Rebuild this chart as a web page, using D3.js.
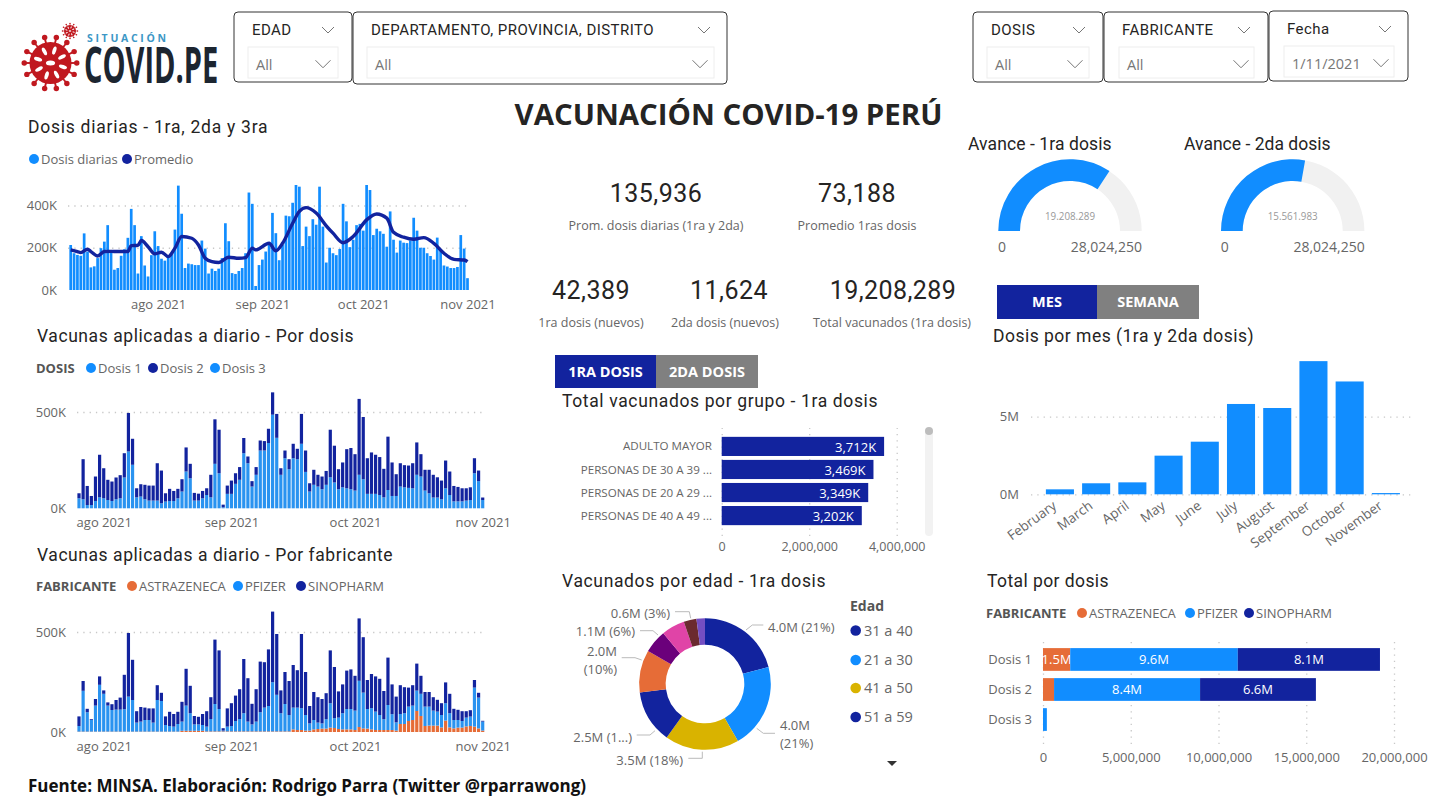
<!DOCTYPE html>
<html>
<head>
<meta charset="utf-8">
<title>Vacunación COVID-19 Perú</title>
<script src="https://cdn.jsdelivr.net/npm/d3@7"></script>
<style>
    html, body { margin: 0; padding: 0; background: #fff; overflow: hidden; }
    text { font-family: "Open Sans", sans-serif; fill: #666; }
    .din { font-family: Roboto, sans-serif; fill: #252423; letter-spacing: 0.45px; }
</style>
</head>
<body>
<script>
//colors used all over the report
var BLUE = "#118DFF", NAVY = "#12239E", ORANGE = "#E66C37", GOLD = "#D9B300", GREY = "#808080";

//daily doses, thousands, 6 jul - 1 nov 2021 (chart is cut at ~500K like the original)
var dosisDiarias = [213,174,166,162,268,182,107,112,151,198,229,307,185,96,104,162,193,247,384,307,
    78,255,116,64,165,278,208,148,139,160,172,286,495,361,104,125,122,118,118,234,196,78,101,90,101,151,316,231,80,76,
    90,104,174,462,408,19,118,144,182,214,365,269,141,214,352,349,413,602,490,208,300,255,335,309,490,300,130,200,174,165,
    194,408,325,203,238,307,313,281,568,474,260,290,278,266,205,372,238,177,234,224,222,234,342,281,200,200,174,161,144,248,
    191,116,111,104,104,109,260,196,56];
//moving average, read at the bends of the line (day number from 6 jul, thousands)
var promedioDia = [0,2,3,5,6,8,10,12,14,17,18,20,21,23,25,27,29,31,33,36,38,40,42,44,47,50,52,54,55,59,61,63,66,68,70,73,76,78,81,84,88,91,94,96,99,102,105,108,111,114,117,118];
var promedioVal = [190,182,177,193,182,161,182,183,182,182,210,212,234,205,171,179,158,198,253,245,213,150,134,130,155,150,153,198,190,221,186,221,316,372,390,364,304,269,224,253,332,360,340,273,250,240,248,221,174,145,142,134];

//by dose, thousands, 26 jul - 1 nov 2021
var dosis1 = [52,47,17,17,38,57,52,43,38,47,52,160,295,226,57,61,47,40,40,40,26,35,38,38,52,87,191,156,40,40,52,69,57,231,182,5,75,75,127,148,286,234,113,174,300,300,339,486,366,174,260,203,260,255,335,189,87,122,113,99,122,161,134,99,109,104,99,92,174,151,75,75,75,69,57,95,64,64,113,109,106,104,174,165,92,78,56,56,47,104,69,36,36,36,40,43,182,141,43];
var dosis2 = [26,208,99,47,127,221,156,105,101,113,120,126,200,135,47,64,75,78,78,194,170,43,63,52,49,64,125,75,40,36,38,35,117,231,226,14,43,69,55,66,79,35,28,40,52,49,74,116,124,34,40,52,75,54,155,111,43,78,61,66,72,247,191,104,129,203,214,189,394,323,185,215,203,197,148,277,174,113,121,115,116,130,168,116,108,122,118,105,97,144,122,80,75,68,64,66,78,55,13];

//by manufacturer, thousands, 26 jul - 1 nov 2021
var astrazeneca = [2,2,2,2,2,2,2,2,2,2,2,2,2,2,2,2,2,2,2,2,2,2,2,2,2,6,6,6,6,6,6,3,3,3,3,3,3,3,3,3,3,3,3,3,3,3,3,3,3,3,3,3,13,10,10,7,7,13,15,17,17,22,20,15,13,13,13,10,25,18,17,13,10,10,10,10,10,7,40,40,55,60,105,80,30,32,32,32,23,57,23,18,22,22,28,30,27,18,7];
var pfizer = [28,204,97,58,130,234,189,130,108,110,110,112,175,158,45,50,58,58,45,158,153,33,28,25,38,46,126,88,32,32,29,24,62,137,112,4,24,27,52,62,91,49,35,49,96,119,127,246,183,91,137,82,109,112,109,78,36,47,32,26,47,122,49,57,81,102,102,97,231,179,98,106,92,75,54,125,79,41,50,54,72,72,102,111,97,95,75,70,62,87,71,42,38,33,44,47,195,154,45];
var sinopharm = [48,49,17,4,33,42,17,16,29,48,60,172,318,201,57,73,62,58,71,74,41,43,71,63,61,99,184,137,42,38,55,77,109,322,293,12,91,114,127,149,271,217,103,162,253,227,283,353,304,114,160,170,213,187,371,215,87,140,127,122,130,264,256,131,144,192,198,174,312,277,145,171,176,181,141,237,149,129,144,130,95,102,135,90,73,73,67,59,59,104,97,56,51,49,32,32,38,24,4];

//x axis tick labels of the daily charts
var tickFechas = [new Date(2021, 7, 1), new Date(2021, 8, 1), new Date(2021, 9, 1), new Date(2021, 10, 1)];
var tickMeses = ["ago 2021", "sep 2021", "oct 2021", "nov 2021"];

//group bars
var grupos = ["ADULTO MAYOR", "PERSONAS DE 30 A 39 ...", "PERSONAS DE 20 A 29 ...", "PERSONAS DE 40 A 49 ..."];
var grupoVal = [3712000, 3469000, 3349000, 3202000];

//donut
var edades = ["31 a 40", "21 a 30", "41 a 50", "51 a 59", "60 a 69", "18 a 20", "70 a 79", "80 a 89", "90+"];
var edadVal = [4.0, 4.0, 3.5, 2.5, 2.0, 1.1, 1.1, 0.6, 0.4];
var edadColor = [NAVY, BLUE, GOLD, NAVY, ORANGE, "#6B007B", "#E044A7", "#6B2A2F", "#744EC2"];

//months
var meses = ["February", "March", "April", "May", "June", "July", "August", "September", "October", "November"];
var mesVal = [0.32, 0.71, 0.77, 2.49, 3.39, 5.82, 5.56, 8.58, 7.27, 0.08];

//total por dosis
var dosisNombres = ["Dosis 1", "Dosis 2", "Dosis 3"];
var totalAstra = [1.55, 0.63, 0];
var totalPfizer = [9.55, 8.32, 0.22];
var totalSino = [8.1, 6.6, 0];

//gauges
var poblacion = 28024250;
var avance1 = 19208289, avance2 = 15561983;

var svg = d3.select("body").append("svg")
    .attr("width", 1429)
    .attr("height", 800)
    .attr("viewBox", "0 0 1429 800");

//small text helper, y is the vertical middle of the text
function label(x, y, txt, size, opts) {
    opts = opts || {};
    var t = svg.append("text")
        .attr("x", x)
        .attr("y", y)
        .attr("dy", "0.35em")
        .attr("font-size", size)
        .attr("text-anchor", opts.anchor || "start")
        .text(txt);
    if (opts.din) t.attr("class", "din");
    if (opts.color) t.style("fill", opts.color);
    if (opts.weight) t.attr("font-weight", opts.weight);
    return t;
}

//section titles, width forced because the original font is not installed
function title(x, y, txt, w) {
    return label(x, y, txt, 17.5, {din: true}).attr("textLength", w);
}

//dots legend, xs holds the dot position of every entry
function legend(y, head, headX, names, colors, xs) {
    if (head) label(headX, y, head, 13, {weight: 700, color: "#555"});
    names.forEach(function (n, i) {
        svg.append("circle").attr("cx", xs[i]).attr("cy", y).attr("r", 5).attr("fill", colors[i]);
        label(xs[i] + 7, y, n, 13);
    });
}

//dotted gridlines and grey labels for an axis group
function cleanAxis(g, fontSize) {
    g.select(".domain").remove();
    g.selectAll(".tick line")
        .attr("stroke", "#c8c8c8")
        .attr("stroke-width", 1.3)
        .attr("stroke-dasharray", "1.3,5");
    g.selectAll(".tick text")
        .attr("font-size", fontSize)
        .attr("font-family", '"Open Sans", sans-serif')
        .style("fill", "#666");
}

//y and x axes shared by the three daily charts
function dailyAxes(x, y, yTicks, left, right, xLabelY, yLabelX) {
    var yAxis = d3.axisLeft(y)
        .tickValues(yTicks)
        .tickSize(-(right - left))
        .tickPadding(left - yLabelX)
        .tickFormat(function (d) { return d + "K"; });
    var gy = svg.append("g").attr("transform", "translate(" + left + ",0)").call(yAxis);
    cleanAxis(gy, 13);
    gy.selectAll(".tick").filter(function (d) { return d === 0; }).select("line").remove();

    var xAxis = d3.axisBottom(x)
        .tickValues(tickFechas)
        .tickSize(0)
        .tickPadding(0)
        .tickFormat(function (d, i) { return tickMeses[i]; });
    var gx = svg.append("g").attr("transform", "translate(0," + xLabelY + ")").call(xAxis);
    cleanAxis(gx, 13);
    gx.selectAll(".tick text").attr("dy", "0.35em");
}

/************ logo ************/
function drawVirus(cx, cy, r, spikes) {
    var v = svg.append("g").attr("transform", "translate(" + cx + "," + cy + ")");
    d3.range(spikes).forEach(function (i) {
        var a = i / spikes * 2 * Math.PI;
        var tip = r * 1.25;
        v.append("line")
            .attr("x1", 0).attr("y1", 0)
            .attr("x2", Math.cos(a) * tip).attr("y2", Math.sin(a) * tip)
            .attr("stroke", "#C0181F").attr("stroke-width", r * 0.09);
        v.append("circle")
            .attr("cx", Math.cos(a) * tip).attr("cy", Math.sin(a) * tip)
            .attr("r", r * 0.13).attr("fill", "#C0181F");
    });
    v.append("circle").attr("r", r).attr("fill", "#C0181F");
    //white spots on the body
    d3.range(8).forEach(function (i) {
        var a = i / 8 * 2 * Math.PI + 0.3;
        v.append("ellipse")
            .attr("rx", r * 0.2).attr("ry", r * 0.09)
            .attr("transform", "rotate(" + (a * 180 / Math.PI) + ") translate(" + (r * 0.62) + ",0)")
            .attr("fill", "#fff");
    });
    v.append("ellipse").attr("rx", r * 0.22).attr("ry", r * 0.12).attr("fill", "#fff");
}
drawVirus(50.5, 63, 21, 14);
drawVirus(70, 31, 6, 12);
label(87, 38.5, "SITUACIÓN", 10.5, {weight: 700, color: "#3C97C6"}).attr("textLength", 79);
//condensed letters: no condensed font here, so squeeze it
svg.append("text")
    .attr("transform", "translate(84,83) scale(0.58,1)")
    .attr("font-family", "Roboto, sans-serif").attr("font-weight", 700).attr("font-size", 50)
    .style("fill", "#1C2530")
    .text("COVID.PE");

/************ slicers ************/
function chevron(x, y, w) {
    svg.append("path")
        .attr("d", d3.line()([[x - w, y - w / 2], [x, y + w / 2], [x + w, y - w / 2]]))
        .attr("fill", "none").attr("stroke", "#666").attr("stroke-width", 0.9);
}
function slicer(x0, x1, y0, y1, name, value, headChev, inX0, inX1, valChev) {
    svg.append("rect")
        .attr("x", x0).attr("y", y0).attr("width", x1 - x0).attr("height", y1 - y0)
        .attr("rx", 4).attr("fill", "#fff").attr("stroke", "#333").attr("stroke-width", 1);
    label(x0 + 18, y0 + 18, name, 15, {din: true});
    chevron(headChev, y0 + 18, 6);
    svg.append("rect")
        .attr("x", inX0).attr("y", y0 + 35).attr("width", inX1 - inX0).attr("height", 31)
        .attr("fill", "#fff").attr("stroke", "#eee");
    label(inX0 + 8, y0 + 53, value, 14.5, {color: "#777"});
    chevron(valChev, y0 + 52, 7.5);
}
slicer(234, 352, 12, 82, "EDAD", "All", 328, 248, 338, 323);
slicer(353, 727, 12, 84, "DEPARTAMENTO, PROVINCIA, DISTRITO", "All", 704, 367, 714, 700);
slicer(973, 1103, 12, 82, "DOSIS", "All", 1079, 987, 1089, 1075);
slicer(1104, 1268, 12, 82, "FABRICANTE", "All", 1244, 1119, 1254, 1241);
slicer(1269, 1408, 11, 81, "Fecha", "1/11/2021", 1385, 1284, 1394, 1381);

/************ main title and footer ************/
label(728.5, 115, "VACUNACIÓN COVID-19 PERÚ", 29.4, {anchor: "middle", weight: 700, color: "#252423"});
label(28, 786, "Fuente: MINSA. Elaboración: Rodrigo Parra (Twitter @rparrawong)", 17, {weight: 700, color: "#111"});

/************ daily doses chart ************/
title(28, 127, "Dosis diarias - 1ra, 2da y 3ra", 240);
legend(159, null, 0, ["Dosis diarias", "Promedio"], [BLUE, NAVY], [34, 127]);

var fechas1 = d3.timeDay.range(new Date(2021, 6, 6), new Date(2021, 10, 2));
var x1 = d3.scaleTime().domain([fechas1[0], fechas1[fechas1.length - 1]]).range([70.7, 467.5]);
var y1 = d3.scaleLinear().domain([0, 400, 498]).range([290, 205.5, 185]).clamp(true);
dailyAxes(x1, y1, [0, 200, 400], 68, 468, 304, 57);

svg.append("g").selectAll("rect")
    .data(dosisDiarias)
    .enter()
    .append("rect")
    .attr("x", function (d, i) { return x1(fechas1[i]) - 1.35; })
    .attr("width", 2.7)
    .attr("y", function (d) { return y1(d); })
    .attr("height", function (d) { return 290 - y1(d); })
    .attr("fill", BLUE);

var promLine = d3.line()
    .x(function (d, i) { return x1(d3.timeDay.offset(fechas1[0], promedioDia[i])); })
    .y(function (d) { return y1(d); })
    .curve(d3.curveMonotoneX);
svg.append("path")
    .datum(promedioVal)
    .attr("d", promLine)
    .attr("fill", "none")
    .attr("stroke", NAVY)
    .attr("stroke-width", 3.4);

/************ stacked daily charts ************/
var fechas2 = d3.timeDay.range(new Date(2021, 6, 26), new Date(2021, 10, 2));
var x2 = d3.scaleTime().domain([fechas2[0], fechas2[fechas2.length - 1]]).range([79, 482.7]);

function stackedDaily(rows, keys, colors, base, y500) {
    var y = d3.scaleLinear().domain([0, 500]).range([base, y500]);
    dailyAxes(x2, y, [0, 500], 77, 483, base + 14, 66);
    var layers = d3.stack().keys(keys)(rows);
    layers.forEach(function (layer, k) {
        svg.append("g").selectAll("rect")
            .data(layer)
            .enter()
            .append("rect")
            .attr("x", function (d, i) { return x2(fechas2[i]) - 1.6; })
            .attr("width", 3.2)
            .attr("y", function (d) { return y(d[1]); })
            .attr("height", function (d) { return y(d[0]) - y(d[1]); })
            .attr("fill", colors[k]);
    });
}

title(37, 336, "Vacunas aplicadas a diario - Por dosis", 317);
legend(368, "DOSIS", 36, ["Dosis 1", "Dosis 2", "Dosis 3"], [BLUE, NAVY, BLUE], [91, 153, 215]);
var filasDosis = dosis1.map(function (d, i) { return {d1: d, d2: dosis2[i]}; });
stackedDaily(filasDosis, ["d1", "d2"], ["#2A93F0", NAVY], 508.3, 412);

title(37, 555, "Vacunas aplicadas a diario - Por fabricante", 356);
legend(586, "FABRICANTE", 36, ["ASTRAZENECA", "PFIZER", "SINOPHARM"], [ORANGE, BLUE, NAVY], [132, 238, 301]);
var filasFab = astrazeneca.map(function (d, i) { return {az: d, pf: pfizer[i], si: sinopharm[i]}; });
stackedDaily(filasFab, ["az", "pf", "si"], [ORANGE, "#2A93F0", NAVY], 732, 632);

/************ KPI cards ************/
function kpi(cx, cy, num, txt, txtX) {
    label(cx, cy, num, 25, {anchor: "middle", din: true});
    label(txtX, cy + 33, txt, 12.5, {anchor: "middle"});
}
kpi(656, 193, "135,936", "Prom. dosis diarias (1ra y 2da)", 656);
kpi(857, 193, "73,188", "Promedio 1ras dosis", 857);
kpi(591, 290, "42,389", "1ra dosis (nuevos)", 591);
kpi(729, 290, "11,624", "2da dosis (nuevos)", 725);
kpi(893, 290, "19,208,289", "Total vacunados (1ra dosis)", 892);

/************ toggle buttons ************/
function boton(x0, x1, y0, y1, txt, color) {
    svg.append("rect").attr("x", x0).attr("y", y0).attr("width", x1 - x0).attr("height", y1 - y0).attr("fill", color);
    label((x0 + x1) / 2, (y0 + y1) / 2, txt, 14.5, {anchor: "middle", weight: 700, color: "#fff"});
}
boton(555, 656, 355, 388, "1RA DOSIS", NAVY);
boton(656, 758, 355, 388, "2DA DOSIS", GREY);
boton(997, 1097, 285, 319, "MES", NAVY);
boton(1097, 1199, 285, 319, "SEMANA", GREY);

/************ bars by group ************/
title(562, 401, "Total vacunados por grupo - 1ra dosis", 316);
var xg = d3.scaleLinear().domain([0, 4000000]).range([721.7, 896.7]);
var yg = d3.scaleBand().domain(grupos).range([435, 527]).paddingInner(0.17).paddingOuter(0.08);

var gxg = svg.append("g").attr("transform", "translate(0,536)")
    .call(d3.axisBottom(xg).tickValues([0, 2000000, 4000000]).tickSize(-108).tickPadding(6).tickFormat(d3.format(",")));
cleanAxis(gxg, 12.5);

svg.append("g").selectAll("rect")
    .data(grupoVal)
    .enter()
    .append("rect")
    .attr("x", xg(0))
    .attr("y", function (d, i) { return yg(grupos[i]); })
    .attr("width", function (d) { return xg(d) - xg(0); })
    .attr("height", yg.bandwidth())
    .attr("fill", NAVY);
grupoVal.forEach(function (d, i) {
    label(xg(d) - 8, yg(grupos[i]) + yg.bandwidth() / 2 + 1, d3.format(",")(d / 1000) + "K", 13, {anchor: "end", color: "#fff"});
    label(712, yg(grupos[i]) + yg.bandwidth() / 2, grupos[i], 11.6, {anchor: "end"});
});

//scrollbar of that visual
svg.append("rect").attr("x", 925).attr("y", 428).attr("width", 8).attr("height", 108).attr("rx", 4).attr("fill", "#f2f2f2");
svg.append("circle").attr("cx", 929).attr("cy", 431).attr("r", 4).attr("fill", "#bdbdbd");

/************ donut ************/
title(562, 581, "Vacunados por edad - 1ra dosis", 264);
var pie = d3.pie().sort(null)(edadVal);
var arc = d3.arc().innerRadius(39.3).outerRadius(65.8);
svg.append("g")
    .attr("transform", "translate(705,684)")
    .selectAll("path")
    .data(pie)
    .enter()
    .append("path")
    .attr("d", arc)
    .attr("fill", function (d, i) { return edadColor[i]; });

//leader lines and their texts, placed by hand like Power BI does
var donutLabels = [
    {pts: [[746, 630], [752.3, 625], [763.3, 625]], lines: ["4.0M (21%)"], x: 768, y: 627, anchor: "start"},
    {pts: [[756.7, 728.3], [763.3, 733.3], [775, 733.3]], lines: ["4.0M", "(21%)"], x: 780, y: 725, anchor: "start"},
    {pts: [[702.3, 751.7], [702.3, 758.3], [688.3, 758.3]], lines: ["3.5M (18%)"], x: 683, y: 760, anchor: "end"},
    {pts: [[655, 730.7], [650, 735], [636.7, 735]], lines: ["2.5M (1...)"], x: 632, y: 737, anchor: "end"},
    {pts: [[641.7, 660], [635, 657.7], [621.7, 657.7]], lines: ["2.0M", "(10%)"], x: 617, y: 651, anchor: "end"},
    {pts: [[658, 635], [653, 630.7], [640, 630.7]], lines: ["1.1M (6%)"], x: 635, y: 631.5, anchor: "end"},
    {pts: [[690.7, 618.3], [689.3, 611.7], [675, 611.7]], lines: ["0.6M (3%)"], x: 670, y: 613, anchor: "end"}
];
donutLabels.forEach(function (l) {
    svg.append("path").attr("d", d3.line()(l.pts)).attr("fill", "none").attr("stroke", "#bbb");
    l.lines.forEach(function (s, i) {
        label(l.x, l.y + i * 18, s, 13, {anchor: l.anchor});
    });
});

//age legend, only the first four fit in the visual
label(850, 606.5, "Edad", 14, {weight: 700, color: "#555"});
[630.5, 660, 688, 717].forEach(function (y, i) {
    svg.append("circle").attr("cx", 855.7).attr("cy", y).attr("r", 5.3).attr("fill", edadColor[i]);
    label(864, y, edades[i], 14.5);
});
svg.append("path").attr("d", "M887,761L897,761L892,766Z").attr("fill", "#333");

/************ gauges ************/
function gauge(cx, valor, texto) {
    var g = svg.append("g").attr("transform", "translate(" + cx + ",231)");
    var scale = d3.scaleLinear().domain([0, poblacion]).range([-Math.PI / 2, Math.PI / 2]);
    var a = d3.arc().innerRadius(50).outerRadius(71.7);
    g.append("path").attr("d", a({startAngle: -Math.PI / 2, endAngle: Math.PI / 2})).attr("fill", "#F1F1F1");
    g.append("path").attr("d", a({startAngle: -Math.PI / 2, endAngle: scale(valor)})).attr("fill", BLUE);
    label(cx, 216, texto, 11, {anchor: "middle", color: "#999"}).attr("textLength", 50).attr("lengthAdjust", "spacingAndGlyphs");
    label(cx - 68, 247, "0", 14, {anchor: "middle"});
    label(cx + 72, 247, d3.format(",")(poblacion), 14, {anchor: "end"});
}
title(968, 144, "Avance - 1ra dosis", 144);
title(1184, 144, "Avance - 2da dosis", 147);
gauge(1070, avance1, "19.208.289");
gauge(1292.7, avance2, "15.561.983");

/************ doses per month ************/
title(993, 336, "Dosis por mes (1ra y 2da dosis)", 261);
var xm = d3.scaleBand().domain(meses).range([1041.9, 1403.9]).paddingInner(0.225).paddingOuter(0.11);
var ym = d3.scaleLinear().domain([0, 5]).range([494.3, 416.7]);

var gym = svg.append("g").attr("transform", "translate(1031,0)")
    .call(d3.axisLeft(ym).tickValues([0, 5]).tickSize(-384).tickPadding(12).tickFormat(function (d) { return d + "M"; }));
cleanAxis(gym, 13);

svg.append("g").selectAll("rect")
    .data(mesVal)
    .enter()
    .append("rect")
    .attr("x", function (d, i) { return xm(meses[i]); })
    .attr("y", function (d) { return ym(d); })
    .attr("width", xm.bandwidth())
    .attr("height", function (d) { return ym(0) - ym(d); })
    .attr("fill", BLUE);

var gxm = svg.append("g").attr("transform", "translate(0,503)")
    .call(d3.axisBottom(xm).tickSize(0).tickPadding(0));
cleanAxis(gxm, 13.5);
gxm.selectAll(".tick text")
    .attr("text-anchor", "end")
    .attr("dy", "0.7em")
    .attr("transform", "translate(-8,-3) rotate(-36)");

/************ total by dose ************/
title(987, 581, "Total por dosis", 122);
legend(613, "FABRICANTE", 986, ["ASTRAZENECA", "PFIZER", "SINOPHARM"], [ORANGE, BLUE, NAVY], [1082, 1190, 1249]);

var xt = d3.scaleLinear().domain([0, 20]).range([1043, 1394]);
var yt = d3.scaleBand().domain(dosisNombres).range([644.5, 734.5]).paddingInner(0.243).paddingOuter(0.12);

var gxt = svg.append("g").attr("transform", "translate(0,744)")
    .call(d3.axisBottom(xt).tickValues([0, 5, 10, 15, 20]).tickSize(-102).tickPadding(9)
        .tickFormat(function (d) { return d3.format(",")(d * 1000000); }));
cleanAxis(gxt, 13);

var filasTotal = dosisNombres.map(function (n, i) {
    return {nombre: n, az: totalAstra[i], pf: totalPfizer[i], si: totalSino[i]};
});
var coloresTotal = [ORANGE, BLUE, NAVY];
var textosTotal = [["1.5M", "", ""], ["9.6M", "8.4M", ""], ["8.1M", "6.6M", ""]];
d3.stack().keys(["az", "pf", "si"])(filasTotal).forEach(function (layer, k) {
    svg.append("g").selectAll("rect")
        .data(layer)
        .enter()
        .append("rect")
        .attr("x", function (d) { return xt(d[0]); })
        .attr("y", function (d) { return yt(d.data.nombre); })
        .attr("width", function (d) { return xt(d[1]) - xt(d[0]); })
        .attr("height", yt.bandwidth())
        .attr("fill", coloresTotal[k]);
    layer.forEach(function (d, i) {
        if (textosTotal[k][i]) {
            label((xt(d[0]) + xt(d[1])) / 2, yt(d.data.nombre) + yt.bandwidth() / 2, textosTotal[k][i], 13, {anchor: "middle", color: "#fff"});
        }
    });
});
dosisNombres.forEach(function (n) {
    label(1032, yt(n) + yt.bandwidth() / 2, n, 13, {anchor: "end"});
});
</script>
</body>
</html>
